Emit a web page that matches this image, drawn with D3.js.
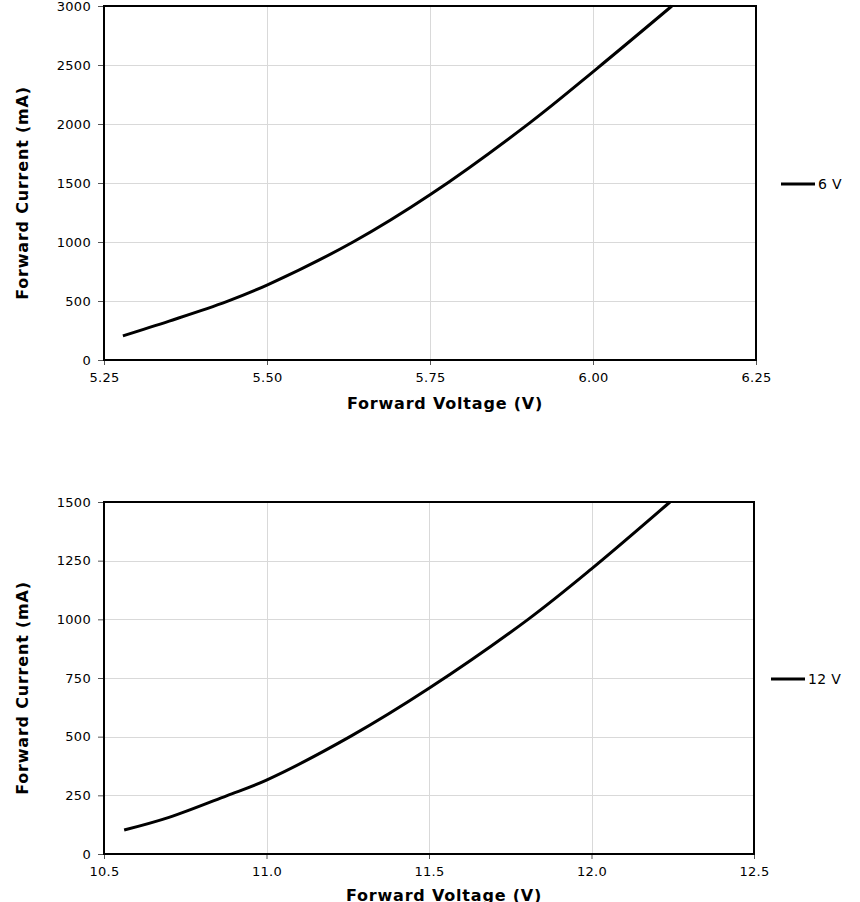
<!DOCTYPE html>
<html>
<head>
<meta charset="utf-8">
<script src="https://cdn.jsdelivr.net/npm/d3@7"></script>
<style>
  html, body { margin: 0; padding: 0; background: #fff; }
  svg { display: block; font-family: "DejaVu Sans", Verdana, sans-serif; }
</style>
</head>
<body>
<svg id="chart" width="860" height="902"></svg>
<script>
// ---- Data ----
const voltage6 = [5.279, 5.35, 5.438, 5.50, 5.632, 5.75, 5.903, 6.006, 6.121];
const current6 = [205, 330, 495, 635, 1000, 1400, 2010, 2470, 3000];
const xTicks6 = [5.25, 5.50, 5.75, 6.00, 6.25];
const yTicks6 = [0, 500, 1000, 1500, 2000, 2500, 3000];

const voltage12 = [10.562, 10.70, 10.877, 11.0, 11.257, 11.5, 11.805, 12.0, 12.2415];
const current12 = [102, 156, 248, 315, 500, 706, 1000, 1215, 1500];
const xTicks12 = [10.5, 11.0, 11.5, 12.0, 12.5];
const yTicks12 = [0, 250, 500, 750, 1000, 1250, 1500];

const seriesNames = ["6 V", "12 V"];
const xTitle = "Forward Voltage (V)";
const yTitle = "Forward Current (mA)";

const svg = d3.select("#chart");

function drawPanel(cfg) {
  const g = svg.append("g");
  const x = d3.scaleLinear().domain(cfg.xDomain).range([cfg.left, cfg.right]);
  const y = d3.scaleLinear().domain(cfg.yDomain).range([cfg.bottom, cfg.top]);

  // gridlines
  g.append("g").selectAll("line").data(cfg.xTicks.slice(1, -1)).join("line")
    .attr("x1", d => Math.round(x(d)) + 0.5).attr("x2", d => Math.round(x(d)) + 0.5)
    .attr("y1", cfg.top).attr("y2", cfg.bottom)
    .attr("stroke", "#d9d9d9").attr("stroke-width", 1);
  g.append("g").selectAll("line").data(cfg.yTicks.slice(1, -1)).join("line")
    .attr("x1", cfg.left).attr("x2", cfg.right)
    .attr("y1", d => Math.round(y(d)) + 0.5).attr("y2", d => Math.round(y(d)) + 0.5)
    .attr("stroke", "#d9d9d9").attr("stroke-width", 1);

  // axes
  const xAxis = d3.axisBottom(x).tickValues(cfg.xTicks).tickFormat(cfg.xFmt).tickSize(5).tickPadding(8);
  const yAxis = d3.axisLeft(y).tickValues(cfg.yTicks).tickFormat(d3.format("d")).tickSize(6).tickPadding(7);
  const gx = g.append("g").attr("transform", `translate(0,${cfg.bottom})`).call(xAxis);
  const gy = g.append("g").attr("transform", `translate(${cfg.left},0)`).call(yAxis);
  [gx, gy].forEach(a => {
    a.select(".domain").remove();
    a.selectAll(".tick line").attr("stroke", "#555").attr("stroke-width", 1);
    a.selectAll(".tick text").attr("font-size", 13).attr("fill", "#000")
      .attr("letter-spacing", "0.3px")
      .attr("font-family", "DejaVu Sans, Verdana, sans-serif");
  });

  // frame
  g.append("rect")
    .attr("x", cfg.left).attr("y", cfg.top)
    .attr("width", cfg.right - cfg.left).attr("height", cfg.bottom - cfg.top)
    .attr("fill", "none").attr("stroke", "#000").attr("stroke-width", 2);

  // curve
  const pts = cfg.xs.map((v, i) => [v, cfg.ys[i]]);
  const line = d3.line().x(d => x(d[0])).y(d => y(d[1])).curve(d3.curveCatmullRom.alpha(0.5));
  g.append("path").datum(pts).attr("d", line)
    .attr("fill", "none").attr("stroke", "#000").attr("stroke-width", 3)
    .attr("stroke-linecap", "butt").attr("stroke-linejoin", "round");

  // axis titles
  g.append("text").attr("x", cfg.xTitleX).attr("y", cfg.xTitleY)
    .attr("text-anchor", "middle").attr("font-size", 16).attr("font-weight", "bold")
    .attr("letter-spacing", "0.8px")
    .text(xTitle);
  g.append("text")
    .attr("transform", `translate(${cfg.yTitleX},${cfg.yTitleY}) rotate(-90)`)
    .attr("text-anchor", "middle").attr("font-size", 16).attr("font-weight", "bold")
    .attr("letter-spacing", "0.8px")
    .text(yTitle);

  // legend
  g.append("line").attr("x1", cfg.legX).attr("x2", cfg.legX + 34)
    .attr("y1", cfg.legY).attr("y2", cfg.legY)
    .attr("stroke", "#000").attr("stroke-width", 3);
  g.append("text").attr("x", cfg.legX + 37).attr("y", cfg.legY + 5)
    .attr("font-size", 14).attr("letter-spacing", "0.3px").text(cfg.name);
}

drawPanel({
  xDomain: [5.25, 6.25], yDomain: [0, 3000],
  left: 104, right: 756, top: 6, bottom: 360,
  xTicks: xTicks6, yTicks: yTicks6, xFmt: d3.format(".2f"),
  xs: voltage6, ys: current6,
  xTitleX: 445, xTitleY: 409, yTitleX: 28, yTitleY: 193,
  legX: 781, legY: 184, name: seriesNames[0]
});

drawPanel({
  xDomain: [10.5, 12.5], yDomain: [0, 1500],
  left: 104, right: 754, top: 502, bottom: 854,
  xTicks: xTicks12, yTicks: yTicks12, xFmt: d3.format(".1f"),
  xs: voltage12, ys: current12,
  xTitleX: 444, xTitleY: 901, yTitleX: 28, yTitleY: 688,
  legX: 771, legY: 679, name: seriesNames[1]
});
</script>
</body>
</html>
